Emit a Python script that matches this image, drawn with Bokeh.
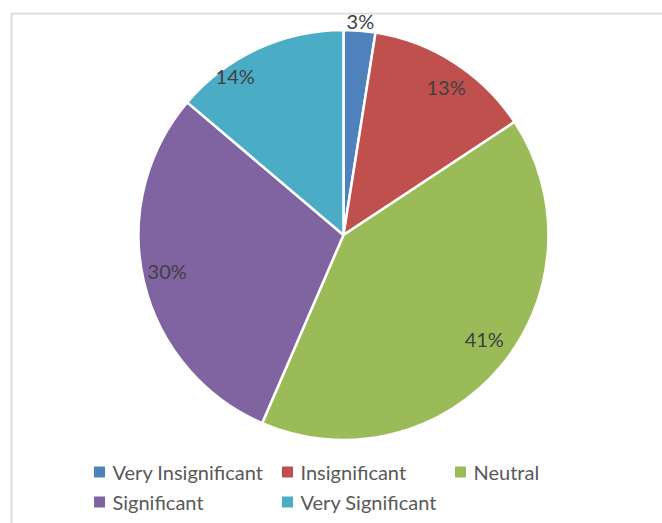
import math
from bokeh.plotting import figure
from bokeh.models import Range1d, ColumnDataSource, Span
from bokeh.core.properties import value
from bokeh.embed import file_html
from bokeh.resources import INLINE

# ---- data ----
categories = ["Very Insignificant", "Insignificant", "Neutral", "Significant", "Very Significant"]
shares = [2.5, 13.2, 40.8, 29.7, 13.8]
labels = ["3%", "13%", "41%", "30%", "14%"]
colors = ["#4F81BD", "#C0504D", "#9BBB59", "#8064A2", "#4BACC6"]

# ---- layout (pixel-like coordinates, y = -pixel_y) ----
W, H = 662, 523
cx, cy, r = 343, -234.5, 205
label_dist = [215, 180, 175, 180, 192]
label_off = [0, 2, -3.5, 1.5, -9.5]

p = figure(width=W, height=H, output_backend="svg", toolbar_location=None,
           x_range=Range1d(10, W), y_range=Range1d(-H, -12),
           min_border_left=10, min_border_top=12, min_border_right=0, min_border_bottom=0)
p.axis.visible = False
p.grid.visible = False
p.outline_line_color = None
p.background_fill_color = "white"
p.border_fill_color = "white"

total = sum(shares)
starts, ends, lx, ly = [], [], [], []
cum = 0.0
for i, s in enumerate(shares):
    a0 = cum / total * 360
    cum += s
    a1 = cum / total * 360
    starts.append(math.radians(90 - a1))
    ends.append(math.radians(90 - a0))
    mid = math.radians((a0 + a1) / 2 + label_off[i])
    lx.append(cx + label_dist[i] * math.sin(mid))
    ly.append(cy + label_dist[i] * math.cos(mid))

src = ColumnDataSource(dict(start=starts, end=ends, color=colors, cat=categories,
                            lx=lx, ly=ly, lab=labels))
p.wedge(x=cx, y=cy, radius=r, start_angle="start", end_angle="end",
        direction="anticlock", fill_color="color", line_color="white",
        line_width=2.5, source=src)
p.text(x="lx", y="ly", text="lab", source=src, text_align="center",
       text_baseline="middle", text_font=value("Lato"), text_font_size="20px",
       text_color="#404040")

# chart-area border (top and left visible)
p.add_layout(Span(location=-13, dimension="width", line_color="#D9D9D9", line_width=2))
p.add_layout(Span(location=11, dimension="height", line_color="#D9D9D9", line_width=2))

# ---- legend ----
col_x = [93, 281, 454]
row_y = [-471.5, -501.5]
leg_x, leg_y = [], []
for i in range(len(categories)):
    row, col = divmod(i, 3)
    leg_x.append(col_x[col])
    leg_y.append(row_y[row])
lsrc = ColumnDataSource(dict(x=[x + 6 for x in leg_x], tx=[x + 19 for x in leg_x],
                             y=leg_y, color=colors, cat=categories))
p.rect(x="x", y="y", width=11, height=11, fill_color="color", line_color=None, source=lsrc)
p.text(x="tx", y="y", text="cat", source=lsrc, text_align="left", text_baseline="middle",
       text_font=value("Lato"), text_font_size="20px", text_color="#595959")

open("out.html", "w").write(file_html(p, INLINE))
